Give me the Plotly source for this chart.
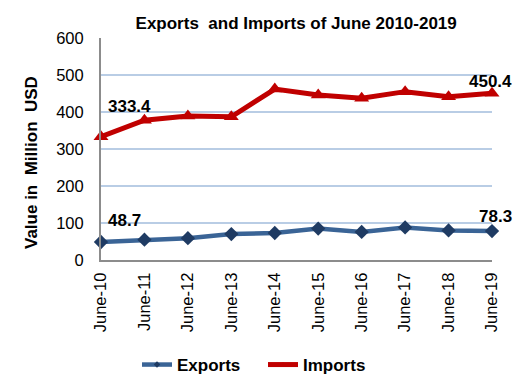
import plotly.graph_objects as go

categories = ["June-10", "June-11", "June-12", "June-13", "June-14",
              "June-15", "June-16", "June-17", "June-18", "June-19"]
exports = [48.7, 55, 59, 70, 73, 85, 76, 88, 80, 78.3]
imports = [333.4, 378, 389, 387, 462, 446, 437, 455, 441, 450.4]
y_ticks = [0, 100, 200, 300, 400, 500, 600]

FONT = "Liberation Sans, Arial, sans-serif"
EXP_LINE, EXP_MARK = "#3A6496", "#1F3B63"
IMP = "#C00000"

fig = go.Figure()
fig.add_trace(go.Scatter(
    x=categories, y=exports, name="Exports", mode="lines+markers",
    line=dict(color=EXP_LINE, width=4.5),
    marker=dict(symbol="diamond", size=11, color=EXP_MARK),
    cliponaxis=False, showlegend=False,
))
fig.add_trace(go.Scatter(
    x=categories, y=imports, name="Imports", mode="lines+markers",
    line=dict(color=IMP, width=5),
    marker=dict(symbol="triangle-up", size=13, color=IMP),
    cliponaxis=False, showlegend=False,
))
# legend entries (small markers like the original legend)
fig.add_trace(go.Scatter(x=[None], y=[None], name="<b>Exports</b>", mode="lines+markers",
                         line=dict(color=EXP_LINE, width=4.5),
                         marker=dict(symbol="diamond", size=5, color=EXP_MARK)))
fig.add_trace(go.Scatter(x=[None], y=[None], name="<b>Imports</b>", mode="lines+markers",
                         line=dict(color=IMP, width=5),
                         marker=dict(symbol="triangle-up", size=5, color=IMP)))

bold = dict(family=FONT, size=17, color="#000000")
annots = [
    dict(x=categories[0], y=imports[0], text="<b>%.1f</b>" % imports[0], xanchor="left", yanchor="middle", xshift=5, yshift=30),
    dict(x=categories[-1], y=imports[-1], text="<b>%.1f</b>" % imports[-1], xanchor="center", yanchor="middle", xshift=-2, yshift=12),
    dict(x=categories[0], y=exports[0], text="<b>%.1f</b>" % exports[0], xanchor="left", yanchor="middle", xshift=5, yshift=21),
    dict(x=categories[-1], y=exports[-1], text="<b>%.1f</b>" % exports[-1], xanchor="center", yanchor="middle", xshift=3, yshift=15),
]
for a in annots:
    a.update(showarrow=False, font=bold, xref="x", yref="y")
annots.append(dict(
    text="<b>Value in  Million  USD</b>", xref="paper", yref="paper",
    x=0, y=0.5, xanchor="center", yanchor="middle", xshift=-70, yshift=-14,
    textangle=-90, showarrow=False, font=bold,
))

fig.update_layout(
    width=516, height=383,
    margin=dict(l=101, r=24, t=38, b=123, autoexpand=False),
    paper_bgcolor="white", plot_bgcolor="white",
    title=dict(text="<b>Exports  and Imports of June 2010-2019</b>",
               x=0.574, xanchor="center", y=0.94, yanchor="middle",
               font=dict(family=FONT, size=17, color="#000000")),
    font=dict(family=FONT, size=16.5, color="#000000"),
    showlegend=True,
    legend=dict(orientation="h", xref="container", yref="container",
                x=0.2655, xanchor="left", y=0.047, yanchor="middle",
                font=dict(family=FONT, size=17, color="#000000"),
                entrywidth=81, entrywidthmode="pixels", tracegroupgap=0),
    annotations=annots,
)
fig.update_xaxes(
    type="category", range=[0, 9], tickangle=-90, automargin=False,
    showline=True, linecolor="#8C8C8C", linewidth=2,
    showgrid=False, ticks="outside", ticklen=4, tickcolor="rgba(0,0,0,0)",
    tickfont=dict(family=FONT, size=16.5, color="#000000"),
)
fig.update_yaxes(
    range=[0, 600], tickvals=y_ticks, ticktext=[str(v) for v in y_ticks],
    automargin=False,
    showline=True, linecolor="#8C8C8C", linewidth=2,
    showgrid=True, gridcolor="#B9CDE5", gridwidth=1.5,
    zeroline=False, ticks="outside", ticklen=12, tickcolor="rgba(0,0,0,0)",
    tickfont=dict(family=FONT, size=16.5, color="#000000"),
)

fig.write_html("out.html", config={"displayModeBar": False},
               post_script="document.body.style.margin='0';document.body.style.overflow='hidden';")
